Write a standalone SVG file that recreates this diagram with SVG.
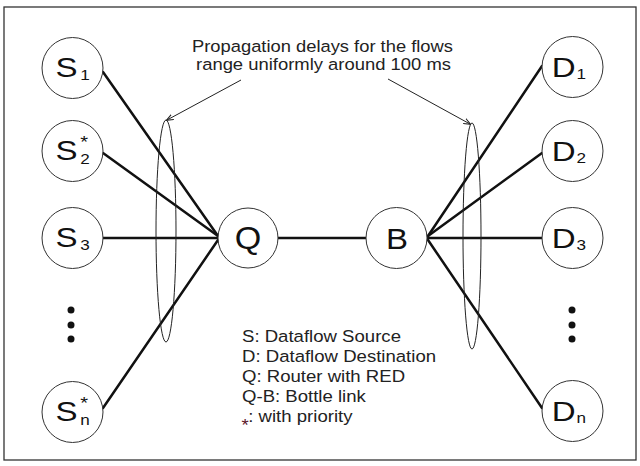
<svg xmlns="http://www.w3.org/2000/svg" width="640" height="466" viewBox="0 0 640 466">
<defs>
<style>
.node circle{fill:#fff;stroke:#333;stroke-width:1}
.lbl{font-family:"Liberation Sans",Arial,sans-serif;fill:#111}
.big{font-size:28px}
.sub{font-size:14.5px}
.sup{font-size:17px}
.conn{stroke:#111;stroke-width:2.5;fill:none;stroke-linecap:round}
.thin{stroke:#222;stroke-width:1;fill:none}
.txt{font-family:"Liberation Sans",Arial,sans-serif;font-size:16.3px;fill:#222}
</style>
<marker id="ah" viewBox="0 0 10 10" refX="9" refY="5" markerWidth="7" markerHeight="7" orient="auto" markerUnits="userSpaceOnUse">
<path d="M0,1 L10,5 L0,9" fill="none" stroke="#222" stroke-width="1.5"/>
</marker>
</defs>
<rect x="4" y="7" width="632" height="453" fill="#fff" stroke="#333" stroke-width="1.3"/>

<g id="connectors">
<line class="conn" x1="103" y1="72" x2="218" y2="236"/>
<line class="conn" x1="103" y1="153" x2="218" y2="236"/>
<line class="conn" x1="103" y1="238" x2="218" y2="238"/>
<line class="conn" x1="103" y1="408" x2="218" y2="240"/>
<line class="conn" x1="278" y1="238" x2="366" y2="238"/>
<line class="conn" x1="428" y1="236" x2="542" y2="66"/>
<line class="conn" x1="428" y1="236" x2="542" y2="153"/>
<line class="conn" x1="428" y1="238" x2="542" y2="238"/>
<line class="conn" x1="428" y1="240" x2="542" y2="408"/>
</g>

<g id="groupings">
<ellipse class="thin" cx="166" cy="231" rx="10" ry="111"/>
<ellipse class="thin" cx="472" cy="236" rx="9" ry="113"/>
<line class="thin" x1="241" y1="80" x2="167" y2="120" marker-end="url(#ah)"/>
<line class="thin" x1="388" y1="79" x2="470" y2="124" marker-end="url(#ah)"/>
</g>

<g id="S1" class="node"><circle cx="72.5" cy="68" r="30.5"/><text class="lbl" transform="translate(72.5,68) scale(1.18,1)"><tspan class="big" x="-14.5" y="9">S</tspan><tspan class="sub" x="6.5" y="12">1</tspan></text></g>
<g id="S2" class="node"><circle cx="72.5" cy="151" r="30.5"/><text class="lbl" transform="translate(72.5,151) scale(1.18,1)"><tspan class="big" x="-14.5" y="9">S</tspan><tspan class="sup" x="6.5" y="-3.5">*</tspan><tspan class="sub" x="6.5" y="12.5">2</tspan></text></g>
<g id="S3" class="node"><circle cx="72.5" cy="238" r="30.5"/><text class="lbl" transform="translate(72.5,238) scale(1.18,1)"><tspan class="big" x="-14.5" y="9">S</tspan><tspan class="sub" x="6.5" y="12">3</tspan></text></g>
<g id="Sn" class="node"><circle cx="72.5" cy="412" r="30.5"/><text class="lbl" transform="translate(72.5,412) scale(1.18,1)"><tspan class="big" x="-14.5" y="9">S</tspan><tspan class="sup" x="6.5" y="-3.5">*</tspan><tspan class="sub" x="6.5" y="12.5">n</tspan></text></g>

<g id="Sdots" fill="#111"><circle cx="71" cy="310" r="3.5"/><circle cx="71" cy="325" r="3.5"/><circle cx="71" cy="339" r="3.5"/></g>
<g id="Ddots" fill="#111"><circle cx="572" cy="310" r="3.5"/><circle cx="572" cy="325" r="3.5"/><circle cx="572" cy="339" r="3.5"/></g>

<g id="Q" class="node"><circle cx="248" cy="238" r="30"/><text class="lbl" transform="translate(248,238) scale(1.1,1)" x="0" y="10.5" font-size="31" text-anchor="middle">Q</text></g>
<g id="B" class="node"><circle cx="396.5" cy="238" r="30.5"/><text class="lbl" transform="translate(397,238) scale(1.1,1)" x="0" y="11" font-size="30" text-anchor="middle">B</text></g>

<g id="D1" class="node"><circle cx="572.5" cy="67" r="30.5"/><text class="lbl" transform="translate(572.5,67) scale(1.18,1)"><tspan class="big" x="-17.5" y="9.5">D</tspan><tspan class="sub" x="3.5" y="12">1</tspan></text></g>
<g id="D2" class="node"><circle cx="572.5" cy="151" r="30.5"/><text class="lbl" transform="translate(572.5,151) scale(1.18,1)"><tspan class="big" x="-17.5" y="9.5">D</tspan><tspan class="sub" x="3.5" y="12">2</tspan></text></g>
<g id="D3" class="node"><circle cx="572.5" cy="238" r="30.5"/><text class="lbl" transform="translate(572.5,238) scale(1.18,1)"><tspan class="big" x="-17.5" y="9.5">D</tspan><tspan class="sub" x="3.5" y="12">3</tspan></text></g>
<g id="Dn" class="node"><circle cx="572.5" cy="411" r="30.5"/><text class="lbl" transform="translate(572.5,411) scale(1.18,1)"><tspan class="big" x="-17.5" y="9.5">D</tspan><tspan class="sub" x="3.5" y="12">n</tspan></text></g>

<g id="caption">
<text class="txt" x="192" y="52" font-size="16.5" textLength="261" lengthAdjust="spacingAndGlyphs">Propagation delays for the flows</text>
<text class="txt" x="196" y="70" font-size="16.5" textLength="255" lengthAdjust="spacingAndGlyphs">range uniformly around 100 ms</text>
</g>

<g id="legend" transform="translate(242,0) scale(1.14,1)">
<text class="txt" x="0" y="342">S: Dataflow Source</text>
<text class="txt" x="0" y="362">D: Dataflow Destination</text>
<text class="txt" x="0" y="382">Q: Router with RED</text>
<text class="txt" x="0" y="402">Q-B: Bottle link</text>
<text class="txt" x="-0.5" y="431" style="fill:#5a1428">*</text>
<text class="txt" x="5.5" y="422">: with priority</text>
</g>
</svg>
